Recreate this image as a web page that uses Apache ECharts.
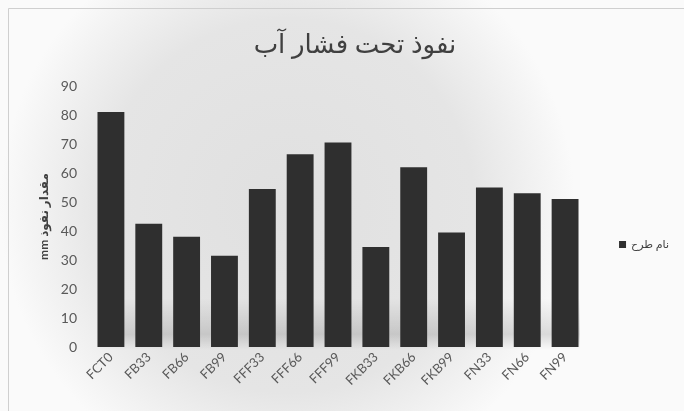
<!DOCTYPE html>
<html>
<head>
<meta charset="utf-8">
<script src="https://cdn.jsdelivr.net/npm/echarts@6/dist/echarts.min.js"></script>
<style>
  html, body { margin: 0; padding: 0; background: #fff; }
  #chart { width: 684px; height: 411px; }
</style>
</head>
<body>
<div id="chart"></div>
<script>
// Mix designs along the x axis
const categories = ['FCT0', 'FB33', 'FB66', 'FB99', 'FFF33', 'FFF66', 'FFF99',
                    'FKB33', 'FKB66', 'FKB99', 'FN33', 'FN66', 'FN99'];
// Water penetration depth under pressure (mm)
const penetration = [81, 42.5, 38, 31.5, 54.5, 66.5, 70.5, 34.5, 62, 39.5, 55, 53, 51];
const seriesName = 'نام طرح';
const titleText = 'نفوذ تحت فشار آب';
// RTL embedding so the unit sits at the start of the rotated label
const yAxisName = '\u202Bمقدار نفوذ mm\u202C';

const FONT = "Lato, 'DejaVu Sans', sans-serif";

const chart = echarts.init(document.getElementById('chart'));
chart.setOption({
  animation: false,
  backgroundColor: {
    type: 'radial', x: 0.42, y: 0.5, r: 0.7,
    colorStops: [
      { offset: 0, color: '#e0e0e0' },
      { offset: 0.65, color: '#e5e5e5' },
      { offset: 1, color: '#fafafa' }
    ]
  },
  graphic: [
    {
      // outer frame of the chart area
      type: 'rect',
      shape: { x: 8.5, y: 8.5, width: 690, height: 420 },
      style: { fill: 'none', stroke: '#cfcfcf', lineWidth: 1 },
      silent: true
    },
    {
      // soft floor shadow under the bars
      type: 'rect',
      z: 1,
      shape: { x: 100, y: 298, width: 480, height: 52 },
      style: {
        fill: {
          type: 'linear', x: 0, y: 0, x2: 0, y2: 1,
          colorStops: [
            { offset: 0, color: 'rgba(0,0,0,0)' },
            { offset: 0.7, color: 'rgba(0,0,0,0.13)' },
            { offset: 1, color: 'rgba(0,0,0,0)' }
          ]
        }
      },
      silent: true
    }
  ],
  title: {
    text: titleText,
    left: 350, top: 27, textAlign: 'center',
    textStyle: { fontFamily: FONT, fontSize: 26, fontWeight: 'normal', color: '#404040' }
  },
  legend: {
    data: [seriesName],
    right: 10, top: 234,
    itemWidth: 7, itemHeight: 7, itemGap: 4,
    icon: 'rect',
    textStyle: { fontFamily: FONT, fontSize: 11, color: '#404040' }
  },
  grid: { left: 92, right: 100, top: 86, bottom: 64 },
  xAxis: {
    type: 'category',
    data: categories,
    axisLine: { show: false },
    axisTick: { show: false },
    axisLabel: {
      rotate: 45, margin: 8,
      fontFamily: FONT, fontSize: 13, color: '#595959'
    }
  },
  yAxis: {
    type: 'value',
    min: 0, max: 90, interval: 10,
    name: yAxisName,
    nameLocation: 'middle',
    nameGap: 42,
    nameRotate: 90,
    nameTextStyle: { fontFamily: FONT, fontSize: 12, fontWeight: 'bold', color: '#404040' },
    axisLine: { show: false },
    axisTick: { show: false },
    splitLine: { show: false },
    axisLabel: { margin: 15, fontFamily: FONT, fontSize: 14, color: '#595959' }
  },
  series: [{
    name: seriesName,
    type: 'bar',
    z: 3,
    data: penetration,
    barCategoryGap: '29%',
    itemStyle: { color: '#2f2f2f' }
  }]
});
</script>
</body>
</html>
